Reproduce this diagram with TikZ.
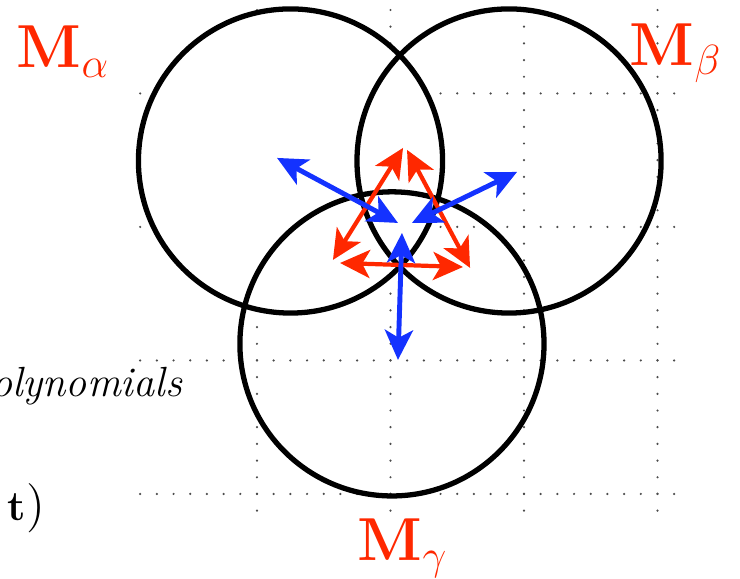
\documentclass[tikz,border=0pt]{standalone}
\usetikzlibrary{arrows.meta}
\definecolor{mred}{RGB}{255,40,0}
\definecolor{mblue}{RGB}{20,50,255}
\begin{document}
\begin{tikzpicture}[x=1.335cm,y=1.335cm,
  every node/.style={inner sep=0pt},
  lbl/.style={text=mred,anchor=base west,font=\fontsize{17.5}{20}\selectfont},
  txt/.style={anchor=base east,font=\fontsize{12}{14}\selectfont},
  ring/.style={draw=black,line width=1.5pt},
  gridline/.style={gray!60!black,line width=0.7pt,line cap=round,dash pattern=on 0pt off 0.166875cm},
  redarr/.style={mred,line width=1.2pt,{Stealth[length=8.5pt,width=8pt,inset=2.2pt]}-{Stealth[length=8.5pt,width=8pt,inset=2.2pt]}},
  bluearr/.style={mblue,line width=1.4pt,{Stealth[length=8.5pt,width=8pt,inset=2.2pt]}-{Stealth[length=8.5pt,width=8pt,inset=2.2pt]}}]
\useasboundingbox (-1.925,-0.637) rectangle (3.618,3.700);
\clip (-1.925,-0.637) rectangle (3.618,3.700);
% dotted grid
\foreach \x in {0,...,3} \draw[gridline] (\x,-0.125) -- (\x,3.625);
\foreach \y in {0,...,3} \draw[gridline] (-0.875,\y) -- (3.125,\y);
% the three circles
\draw[ring,fill=white] (0.251,2.494) circle (1.139);
\draw[ring] (1.888,2.494) circle (1.139);
\draw[ring] (1.011,1.124) circle (1.139);
% red triangle
\coordinate (l1) at (0.569,1.753);
\coordinate (l2) at (1.094,2.592);
\coordinate (r1) at (1.124,2.577);
\coordinate (r2) at (1.596,1.693);
\coordinate (b1) at (0.622,1.730);
\coordinate (b2) at (1.543,1.700);
\draw[redarr] (l1) -- (l2);
\draw[redarr] (r1) -- (r2);
\draw[redarr] (b1) -- (b2);
% blue arrows
\coordinate (ain) at (1.056,2.030);
\coordinate (aout) at (0.150,2.517);
\coordinate (bin) at (1.161,2.030);
\coordinate (bout) at (1.948,2.412);
\coordinate (gin) at (1.086,1.955);
\coordinate (gout) at (1.056,1.004);
\draw[bluearr] (ain) -- (aout);
\draw[bluearr] (bin) -- (bout);
\draw[bluearr] (gin) -- (gout);
% labels
\node[lbl] (ma) at (-1.805,3.191) {$\mathbf{M}_\alpha$};
\node[lbl] (mb) at (2.787,3.213) {$\mathbf{M}_\beta$};
\node[lbl] (mg) at (0.749,-0.500) {$\mathbf{M}_\gamma$};
\node[txt] (poly) at (-0.554,0.727) {\textit{polynomials}};
\node[txt] (tpar) at (-1.581,-0.202) {\textbf{t}\fontsize{14}{16}\selectfont)};
\end{tikzpicture}
\end{document}
